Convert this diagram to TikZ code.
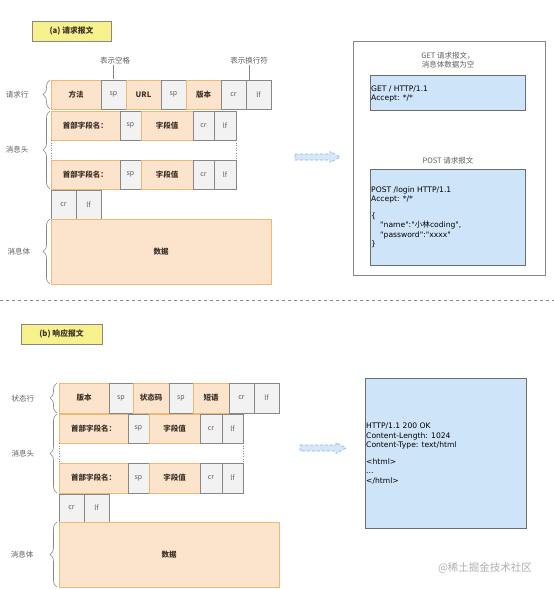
\documentclass[tikz,border=0pt]{standalone}
\usepackage{fontspec}
\setmainfont{Noto Sans CJK SC}
\newfontfamily\codefont{DejaVu Sans}
\newfontfamily\cjkfont{Noto Sans CJK SC}
\usetikzlibrary{decorations.pathreplacing}
\definecolor{ofill}{RGB}{252,228,204}
\definecolor{oline}{RGB}{236,186,120}
\definecolor{gfill}{RGB}{242,242,242}
\definecolor{gline}{RGB}{135,135,135}
\definecolor{yfill}{RGB}{246,241,140}
\definecolor{bfill}{RGB}{206,228,249}
\definecolor{bline}{RGB}{110,110,110}
\definecolor{afill}{RGB}{214,232,248}
\definecolor{aline}{RGB}{140,180,222}
\definecolor{ltext}{RGB}{95,95,95}
\definecolor{dtext}{RGB}{60,50,40}
\newcommand\mybox[7]{\node[#1, minimum width={(#5-#3)*1pt}, minimum height={(#6-#4)*1pt}] (#2) at ({(#3+#5)/2},{(#4+#6)/2}) {#7};}
\newcommand\blockarrow[3]{% x0, x1, y
  \filldraw[barrow] (#1,#3-3) -- (#2-10,#3-3) -- (#2-10,#3-5.5) -- (#2,#3) -- (#2-10,#3+5.5) -- (#2-10,#3+3) -- (#1,#3+3) -- cycle;}
\begin{document}
\begin{tikzpicture}[x=1pt,y=-1pt,
  base/.style={inner sep=0pt, outer sep=0pt, line width=0.6pt},
  obox/.style={base, draw=oline, fill=ofill, text=dtext, font=\fontsize{7.5}{8}\selectfont\bfseries},
  gbox/.style={base, draw=gline, fill=gfill, text=ltext, font=\fontsize{7}{8}\selectfont},
  tbox/.style={base, draw=gline, fill=yfill, text=dtext, font=\fontsize{7.8}{8}\selectfont\bfseries},
  cbox/.style={base, draw=bline, fill=bfill},
  wbox/.style={base, draw=gline, fill=white},
  code/.style={anchor=west, align=left, inner sep=0pt, text=black, font=\codefont\fontsize{7.6}{9.5}\selectfont},
  lab/.style={inner sep=0pt, text=ltext, font=\fontsize{7.5}{9}\selectfont},
  brc/.style={decorate, decoration={brace, amplitude=7pt}, draw=gline, line width=0.6pt},
  dots/.style={draw=gline, dotted, line width=0.6pt},
  barrow/.style={draw=aline, densely dashed, fill=afill, line width=0.6pt},
]
\useasboundingbox (0,0) rectangle (554,590);
\fill[white] (0,0) rectangle (554,590);

% ---------------- (a) request ----------------
\mybox{tbox}{ta}{32}{21}{111}{41}{(a) 请求报文}

\mybox{obox}{a1}{51}{80}{101}{109}{方法}
\mybox{gbox}{a2}{101}{80}{126}{109}{sp}
\mybox{obox}{a3}{126}{80}{161}{109}{URL}
\mybox{gbox}{a4}{161}{80}{186}{109}{sp}
\mybox{obox}{a5}{186}{80}{221}{109}{版本}
\mybox{gbox}{a6}{221}{80}{246}{109}{cr}
\mybox{gbox}{a7}{246}{80}{271}{109}{lf}

\mybox{obox}{ah1}{51}{111}{120}{140}{首部字段名：}
\mybox{gbox}{ah2}{120}{111}{141}{140}{sp}
\mybox{obox}{ah3}{141}{111}{193}{140}{字段值}
\mybox{gbox}{ah4}{193}{111}{214}{140}{cr}
\mybox{gbox}{ah5}{214}{111}{236}{140}{lf}

\mybox{obox}{ak1}{51}{160}{120}{189}{首部字段名：}
\mybox{gbox}{ak2}{120}{160}{141}{189}{sp}
\mybox{obox}{ak3}{141}{160}{193}{189}{字段值}
\mybox{gbox}{ak4}{193}{160}{214}{189}{cr}
\mybox{gbox}{ak5}{214}{160}{236}{189}{lf}

\mybox{gbox}{ae1}{51}{190}{76}{219}{cr}
\mybox{gbox}{ae2}{76}{190}{101}{219}{lf}
\mybox{obox}{ad}{51}{219}{271}{284}{数据}

\draw[dots] (ah1.south west) -- (ak1.north west);
\draw[dots] (ah5.south east) -- (ak5.north east);

\node[lab] (sp) at (115,61) {表示空格};
\node[lab] (nl) at (249,61) {表示换行符};
\draw[gline, line width=0.6pt] (sp.south) ++(-2,0) -- ++(0,14);
\draw[gline, line width=0.6pt] (nl.south) -- (nl.south |- a7.north);

\draw[brc] (50,109) -- (50,80);
\draw[brc] (50,189) -- (50,111);
\draw[brc] (50,284) -- (50,219);
\node[lab] (l1) at (17,95) {请求行};
\node[lab] (l2) at (17,150) {消息头};
\node[lab] (l3) at (19,252) {消息体};

% right panel (a)
\mybox{wbox}{pa}{353}{41}{545}{275}{}
\node[lab, align=center] (gt) at (448,60.5) {GET 请求报文，\\消息体数据为空};
\node[lab] (pt) at (448,161) {POST 请求报文};
\mybox{cbox}{gb}{370}{75}{525}{110}{}
\mybox{cbox}{pb}{370}{169}{525}{265}{}
\node[code] (gc) at (371,94) {GET / HTTP/1.1\\Accept: */*};
\node[code] (pc) at (371,217) {POST /login HTTP/1.1\\Accept: */*\\[7pt]\{\\\hspace*{9pt}"name":"{\cjkfont 小林}coding",\\\hspace*{9pt}"password":"xxxx"\\\}};
\blockarrow{295}{340}{157}

% separator
\draw[gline, dashed, line width=0.6pt] (0,300) -- (554,300);

% ---------------- (b) response ----------------
\mybox{tbox}{tb}{21}{324}{102}{344}{(b) 响应报文}

\mybox{obox}{b1}{59}{383}{109}{413}{版本}
\mybox{gbox}{b2}{109}{383}{133}{413}{sp}
\mybox{obox}{b3}{133}{383}{169}{413}{状态码}
\mybox{gbox}{b4}{169}{383}{193}{413}{sp}
\mybox{obox}{b5}{193}{383}{229}{413}{短语}
\mybox{gbox}{b6}{229}{383}{254}{413}{cr}
\mybox{gbox}{b7}{254}{383}{279}{413}{lf}

\mybox{obox}{bh1}{59}{414}{128}{443}{首部字段名：}
\mybox{gbox}{bh2}{128}{414}{149}{443}{sp}
\mybox{obox}{bh3}{149}{414}{200}{443}{字段值}
\mybox{gbox}{bh4}{200}{414}{222}{443}{cr}
\mybox{gbox}{bh5}{222}{414}{243}{443}{lf}

\mybox{obox}{bk1}{59}{463}{128}{493}{首部字段名：}
\mybox{gbox}{bk2}{128}{463}{149}{493}{sp}
\mybox{obox}{bk3}{149}{463}{200}{493}{字段值}
\mybox{gbox}{bk4}{200}{463}{222}{493}{cr}
\mybox{gbox}{bk5}{222}{463}{243}{493}{lf}

\mybox{gbox}{be1}{59}{494}{84}{522}{cr}
\mybox{gbox}{be2}{84}{494}{109}{522}{lf}
\mybox{obox}{bd}{59}{522}{279}{587}{数据}

\draw[dots] (bh1.south west) -- (bk1.north west);
\draw[dots] (bh5.south east) -- (bk5.north east);

\draw[brc] (57,413) -- (57,383);
\draw[brc] (57,493) -- (57,414);
\draw[brc] (57,587) -- (57,522);
\node[lab] (m1) at (23,399) {状态行};
\node[lab] (m2) at (23,454) {消息头};
\node[lab] (m3) at (22,555) {消息体};

\mybox{cbox}{rb}{365}{378}{526}{528}{}
\node[code] (rc) at (366,453.5) {HTTP/1.1 200 OK\\Content-Length: 1024\\Content-Type: text/html\\[7pt]<html>\\...\\</html>};
\blockarrow{300}{346}{448}

\node[inner sep=0pt, text={rgb,255:red,175;green,175;blue,175}, font=\fontsize{10.5}{12}\selectfont] (wm) at (485,568) {@稀土掘金技术社区};
\end{tikzpicture}
\end{document}
